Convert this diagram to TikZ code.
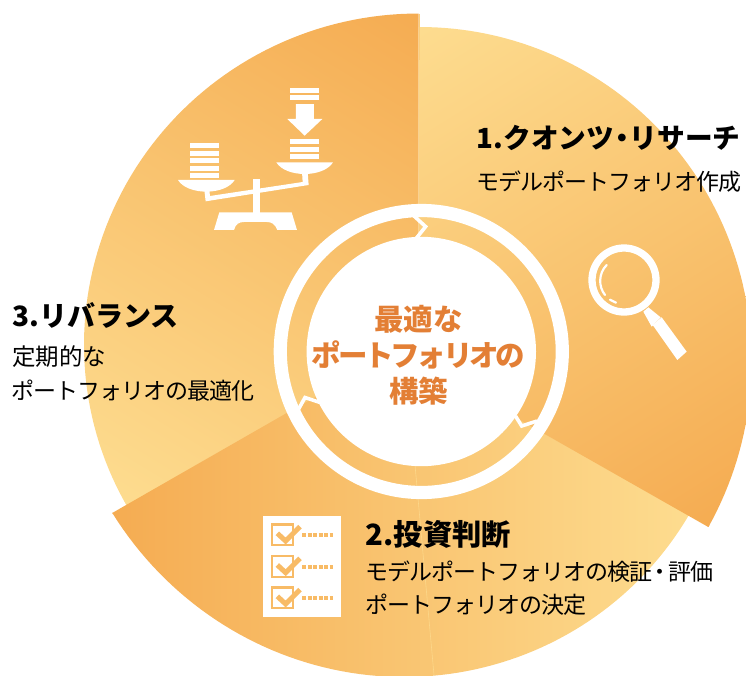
\documentclass[tikz,border=0pt]{standalone}
\usepackage{fontspec}
\setmainfont{Noto Sans CJK JP}
\definecolor{lightor}{HTML}{FDDC8F}
\definecolor{darkor}{HTML}{F5AC52}
\definecolor{txtor}{HTML}{E37F35}
\definecolor{iconor}{HTML}{F8BB66}
\newcommand{\gradband}[5]{% start, rotate, length, colA, colB
  \begin{scope}[transform canvas={shift={#1},rotate=#2}]
    \fill[#4] (-900,-900) rectangle (0.5,900);
    \fill[#5] (#3-0.5,-900) rectangle (#3+900,900);
    \shade[left color=#4,right color=#5] (0,-900) rectangle (#3,900);
  \end{scope}}
\tikzset{
  head/.style={anchor=base west,inner sep=0pt,font=\bfseries\fontsize{28}{28}\selectfont,text=black},
  sub/.style={anchor=base west,inner sep=0pt,font=\fontsize{23}{23}\selectfont\addfontfeature{LetterSpace=-4.3},text=black},
  centre/.style={anchor=base,inner sep=0pt,font=\bfseries\fontsize{29.5}{29.5}\selectfont,text=txtor},
  chev/.style={draw=white,line width=3.6pt,line join=miter,fill=none},
  icon/.style={fill=white,draw=none},
  tick/.style={draw=iconor,line width=2.3pt},
  mark2/.style={draw=iconor,line width=5pt,miter limit=10},
  dots/.style={draw=iconor,line width=4.3pt,dash pattern=on 4pt off 1.45pt}
}
\begin{document}
\begin{tikzpicture}[x=1pt,y=-1pt]
\useasboundingbox (0,0) rectangle (746,675);
\clip (0,0) rectangle (746,675);
% sector 3
\begin{scope}
  \clip plot[domain=235:360,samples=80,variable=\t] ({418.5+(330+8*(1-(1-(\t-242)/118)*(1-(\t-242)/118)*(1-(\t-242)/118)))*sin(\t)},{351.5-(330+8*(1-(1-(\t-242)/118)*(1-(\t-242)/118)*(1-(\t-242)/118)))*cos(\t)}) -- (418.5,351.5) -- cycle;
  \gradband{(125,505)}{59}{573}{lightor}{darkor}
\end{scope}
% sector 2
\begin{scope}
  \clip plot[domain=118:242.2,samples=80,variable=\t] ({418.5+(316+0.0677*(\t-121)+0.00149*(\t-121)*(\t-121))*sin(\t)},{351.5-(316+0.0677*(\t-121)+0.00149*(\t-121)*(\t-121))*cos(\t)}) -- (285,414) -- (418,340) -- (500,340) -- cycle;
  \gradband{(112,513)}{0}{578}{darkor}{lightor}
\end{scope}
\draw[draw=lightor,line width=0.6pt,opacity=0.8] (415,465) -- (434,675);
% sector 1
\begin{scope}
  \clip plot[domain=0:121.2,samples=80,variable=\t] ({418.5+(324.5+0.02292*\t+0.000801*\t*\t)*sin(\t)},{351.5-(324.5+0.02292*\t+0.000801*\t*\t)*cos(\t)}) -- (418,362) -- (418.5,351.5) -- cycle;
  \gradband{(420,30)}{-58}{574}{lightor}{darkor}
\end{scope}
\draw[draw=lightor!70!darkor,line width=1pt] (419,13.5) -- (419,60);
% ring
\draw[white,line width=13.2pt] (421.3,351.5) circle[radius=141];
\fill[white] (421.3,351.5) circle[radius=114.7];
\draw[chev] (414,216) -- (425.6,226.6) -- (416.5,238);
\draw[chev] (515.5,416) -- (521.7,426) -- (537,421);
\draw[chev] (297,412) -- (305,397.5) -- (320,402.5);
% centre text
\node[centre] (c1) at (418.5,330.5) {最適な};
\node[centre] (c2) at (418.5,366.5) {\addfontfeature{LetterSpace=-11}ポートフォリオの};
\node[centre] (c3) at (418.5,402.5) {構築};
% labels
\node[head,font=\bfseries\fontsize{27.7}{27.7}\selectfont] (h1) at (476.5,148) {1.クオンツ\hspace{-0.22em}・\hspace{-0.22em}リサーチ};
\node[sub] (s1) at (476,190) {モデルポートフォリオ作成};
\node[head,font=\bfseries\fontsize{29.3}{29.3}\selectfont] (h2) at (365.5,545.5) {2.投資判断};
\node[sub] (s2) at (365,580) {モデルポートフォリオの検証\hspace{-0.15em}・\hspace{-0.15em}評価};
\node[sub] (s3) at (365,613.3) {ポートフォリオの決定};
\node[head] (h3) at (12,326) {3.リバランス};
\node[sub,font=\fontsize{23.5}{23.5}\selectfont] (s4) at (12,365.3) {定期的な};
\node[sub] (s5) at (11,399.3) {ポートフォリオの最適化};
% magnifier
\begin{scope}[shift={(570,230)},x=0.3333pt,y=-0.3333pt]
  \draw[white,line width=7.3pt] (162,150) circle[radius=96];
  \fill[icon] (220,245) -- (235,232) -- (272,262) -- (245,290) -- cycle;
  \fill[icon] (248,285) -- (275,262) -- (350,365) -- (322,390) -- cycle;
  \draw[white,line width=2.2pt,line cap=round] (110,105) .. controls (85,130) and (85,170) .. (105,195);
  \draw[white,line width=2.2pt,line cap=round] (120,209) -- (138,218);
\end{scope}
% scale
\begin{scope}[shift={(160,70)},x=0.3333pt,y=-0.3333pt]
  \fill[icon] (390,54) rectangle (477,68);
  \fill[icon] (390,76) rectangle (477,90);
  \fill[icon] (408,102) -- (462,102) -- (462,147) -- (487,147) -- (434,197) -- (382,147) -- (408,147) -- cycle;
  \fill[icon] (390,208) rectangle (477,222);
  \fill[icon] (390,230) rectangle (477,245);
  \fill[icon] (390,252) rectangle (477,267);
  \fill[icon] (349,277) -- (519,277) .. controls (505,300) and (470,312) .. (434,312) .. controls (398,312) and (363,300) .. (349,277) -- cycle;
  \fill[icon] (90,220) rectangle (177,234);
  \fill[icon] (90,243) rectangle (177,257);
  \fill[icon] (90,265) rectangle (177,279);
  \fill[icon] (90,288) rectangle (177,302);
  \fill[icon] (90,309) rectangle (177,323);
  \fill[icon] (54,330) -- (224,330) .. controls (210,353) and (175,365) .. (139,365) .. controls (103,365) and (68,353) .. (54,330) -- cycle;
  \fill[icon] (133,360) -- (148,360) -- (150,378) -- (428,336) -- (426,305) -- (443,305) -- (446,345) -- (137,394) -- cycle;
  \fill[icon] (279,327) rectangle (300,430);
  \fill[icon] (178,427) -- (395,427) -- (411,480) -- (352,480) .. controls (345,462) and (335,456) .. (320,456) -- (252,456) .. controls (237,456) and (227,462) .. (222,480) -- (162,480) -- cycle;
\end{scope}
% checklist
\begin{scope}[shift={(250,505)},x=0.3333pt,y=-0.3333pt]
  \fill[icon] (38,33) rectangle (273,335);
  \foreach \d in {0,95,189}{
    \draw[tick] (66.5,58.5+\d) rectangle (128.5,120+\d);
    \draw[mark2] (82,85+\d) -- (107,108+\d) -- (150,65+\d);
    \draw[dots] (157,91+\d) -- (250,91+\d);
  }
\end{scope}
\end{tikzpicture}
\end{document}
